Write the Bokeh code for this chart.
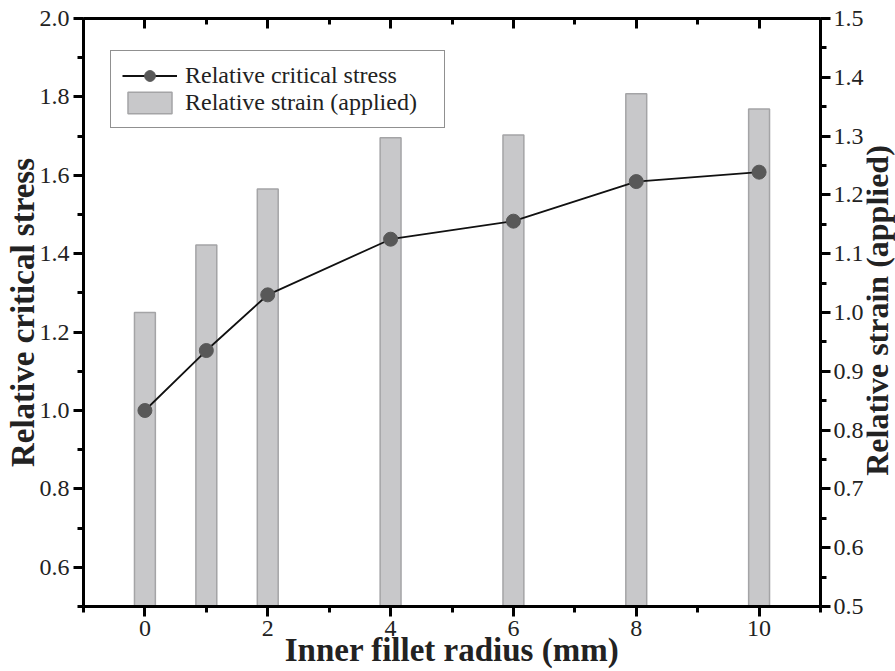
import math
from bokeh.plotting import figure
from bokeh.layouts import row
from bokeh.models import (Range1d, LinearAxis, SingleIntervalTicker, PrintfTickFormatter,
                          CustomJSTickFormatter, Legend, LegendItem, Label)
from bokeh.embed import file_html
from bokeh.resources import INLINE

# ---- data ----
radius = [0, 1, 2, 4, 6, 8, 10]
critical_stress = [1.0, 1.153, 1.295, 1.437, 1.483, 1.584, 1.608]
strain_applied = [1.0, 1.115, 1.21, 1.297, 1.302, 1.372, 1.346]

x_label = "Inner fillet radius (mm)"
y_left_label = "Relative critical stress"
y_right_label = "Relative strain (applied)"
series_names = ["Relative critical stress", "Relative strain (applied)"]

FONT = "Liberation Serif"
TICK_SIZE = "24px"
TITLE_SIZE = "33px"

p = figure(width=866, height=671, output_backend="svg", toolbar_location=None,
           x_range=Range1d(-1, 11), y_range=Range1d(0.5, 2.0),
           min_border_left=83, min_border_right=43, min_border_top=18,
           min_border_bottom=65)
p.extra_y_ranges = {"strain": Range1d(0.5, 1.5)}
p.xgrid.visible = False
p.ygrid.visible = False
p.outline_line_color = None
p.background_fill_color = "white"
p.border_fill_color = "white"


def style_axis(ax, tick_in=0, tick_out=10, minor_in=0, minor_out=6,
               label_standoff=4, title_standoff=-4):
    ax.axis_line_width = 3
    ax.axis_line_color = "black"
    ax.major_tick_line_width = 3
    ax.minor_tick_line_width = 3
    ax.major_tick_line_color = "black"
    ax.minor_tick_line_color = "black"
    ax.major_tick_in = tick_in
    ax.major_tick_out = tick_out
    ax.minor_tick_in = minor_in
    ax.minor_tick_out = minor_out
    ax.major_label_text_font = FONT
    ax.major_label_text_font_size = TICK_SIZE
    ax.major_label_text_color = "#222222"
    ax.axis_label_text_font = FONT
    ax.axis_label_text_font_size = TITLE_SIZE
    ax.axis_label_text_font_style = "bold"
    ax.axis_label_text_color = "#222222"
    ax.major_label_standoff = label_standoff
    ax.axis_label_standoff = title_standoff


# bottom axis
xax = p.xaxis[0]
xax.ticker = SingleIntervalTicker(interval=2, num_minor_ticks=2)
xax.axis_label = x_label
style_axis(xax, label_standoff=4, title_standoff=-7)

# left axis
yax = p.yaxis[0]
yax.ticker = SingleIntervalTicker(interval=0.2, num_minor_ticks=2)
yax.formatter = PrintfTickFormatter(format="%.1f")
yax.axis_label = y_left_label
style_axis(yax, label_standoff=4, title_standoff=-4)

# right axis: ticks and tick labels (its title sits in the strip beside it)
rax = LinearAxis(y_range_name="strain",
                 ticker=SingleIntervalTicker(interval=0.1, num_minor_ticks=2),
                 formatter=PrintfTickFormatter(format="%.1f"))
style_axis(rax, label_standoff=3, title_standoff=0)
p.add_layout(rax, "right")

# top axis (frame line, ticks inward, no labels)
tax = LinearAxis(ticker=SingleIntervalTicker(interval=2, num_minor_ticks=2),
                 formatter=CustomJSTickFormatter(code="return ''"))
style_axis(tax, tick_in=10, tick_out=0, minor_in=6, minor_out=0,
           label_standoff=0, title_standoff=0)
tax.major_label_text_font_size = "1px"
p.add_layout(tax, "above")

# bars on the right axis
bars = p.vbar(x=radius, top=strain_applied, bottom=0.5, width=0.34,
              y_range_name="strain", fill_color="#c8c8ca",
              line_color="#a4a4a6", line_width=1.5)

line = p.line(radius, critical_stress, line_color="#111111", line_width=1.8)
dots = p.scatter(radius, critical_stress, size=14, fill_color="#585858",
                 line_color="#585858")

legend = Legend(items=[LegendItem(label=series_names[0], renderers=[line, dots]),
                       LegendItem(label=series_names[1], renderers=[bars])],
                location=(27, 478), orientation="vertical",
                border_line_color="#222222", border_line_width=1.2,
                background_fill_color="white", background_fill_alpha=1,
                padding=11, spacing=0, margin=0,
                glyph_width=55, glyph_height=27, label_height=27,
                label_width=248, label_standoff=8,
                label_text_font=FONT, label_text_font_size=TICK_SIZE,
                label_text_color="#222222")
p.add_layout(legend)

# narrow strip to the right holding the right-axis title, reading bottom to top
strip = figure(width=29, height=671, output_backend="svg", toolbar_location=None,
               x_range=Range1d(0, 1), y_range=Range1d(0, 1),
               x_axis_location=None, y_axis_location=None,
               min_border_left=0, min_border_right=0, min_border_top=0,
               min_border_bottom=0)
strip.xgrid.visible = False
strip.ygrid.visible = False
strip.outline_line_color = None
strip.background_fill_color = "white"
strip.border_fill_color = "white"
strip.add_layout(Label(x=10, y=296, x_units="screen", y_units="screen",
                       text=y_right_label, angle=math.pi / 2,
                       text_align="center", text_baseline="middle",
                       text_font=FONT, text_font_size="32px",
                       text_font_style="bold", text_color="#222222"))

layout = row(p, strip, spacing=0)
open("out.html", "w").write(file_html(layout, INLINE))
